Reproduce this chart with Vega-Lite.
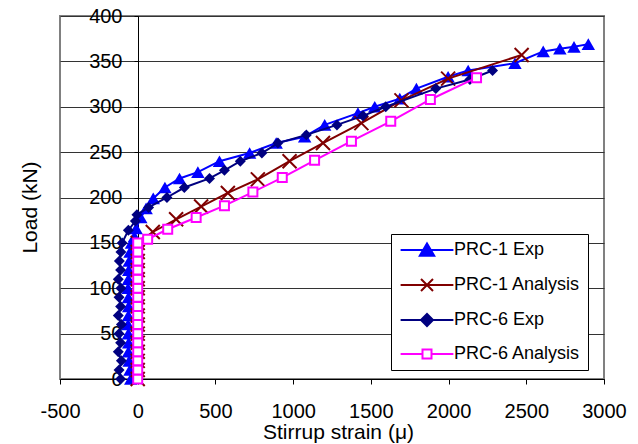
{
  "$schema": "https://vega.github.io/schema/vega-lite/v6.json",
  "width": 544,
  "height": 363,
  "autosize": {"type": "none"},
  "padding": {"left": 60, "top": 16, "right": 34, "bottom": 65},
  "background": "white",
  "config": {
    "font": "Liberation Sans",
    "view": {"stroke": "#808080", "strokeWidth": 2},
    "axis": {
      "labelFont": "Liberation Sans", "titleFont": "Liberation Sans",
      "labelFontSize": 20, "titleFontSize": 21, "titleFontWeight": "normal",
      "labelColor": "black", "titleColor": "black",
      "domainColor": "black", "tickColor": "black",
      "gridColor": "#333333", "gridOpacity": 1, "gridWidth": 1
    }
  },
  "data": {"values": [
    {"series": "PRC-1 Exp", "strain": -45, "load": 0},
    {"series": "PRC-1 Exp", "strain": -50, "load": 10},
    {"series": "PRC-1 Exp", "strain": -55, "load": 20},
    {"series": "PRC-1 Exp", "strain": -60, "load": 30},
    {"series": "PRC-1 Exp", "strain": -58, "load": 40},
    {"series": "PRC-1 Exp", "strain": -60, "load": 50},
    {"series": "PRC-1 Exp", "strain": -62, "load": 60},
    {"series": "PRC-1 Exp", "strain": -60, "load": 70},
    {"series": "PRC-1 Exp", "strain": -58, "load": 80},
    {"series": "PRC-1 Exp", "strain": -60, "load": 90},
    {"series": "PRC-1 Exp", "strain": -62, "load": 100},
    {"series": "PRC-1 Exp", "strain": -60, "load": 110},
    {"series": "PRC-1 Exp", "strain": -58, "load": 120},
    {"series": "PRC-1 Exp", "strain": -55, "load": 130},
    {"series": "PRC-1 Exp", "strain": -50, "load": 140},
    {"series": "PRC-1 Exp", "strain": -40, "load": 150},
    {"series": "PRC-1 Exp", "strain": -21, "load": 157},
    {"series": "PRC-1 Exp", "strain": -10, "load": 166},
    {"series": "PRC-1 Exp", "strain": 20, "load": 178},
    {"series": "PRC-1 Exp", "strain": 54, "load": 188},
    {"series": "PRC-1 Exp", "strain": 100, "load": 199},
    {"series": "PRC-1 Exp", "strain": 175, "load": 211},
    {"series": "PRC-1 Exp", "strain": 269, "load": 221},
    {"series": "PRC-1 Exp", "strain": 387, "load": 228},
    {"series": "PRC-1 Exp", "strain": 526, "load": 240},
    {"series": "PRC-1 Exp", "strain": 720, "load": 249},
    {"series": "PRC-1 Exp", "strain": 891, "load": 260},
    {"series": "PRC-1 Exp", "strain": 1074, "load": 267},
    {"series": "PRC-1 Exp", "strain": 1203, "load": 280},
    {"series": "PRC-1 Exp", "strain": 1417, "load": 293},
    {"series": "PRC-1 Exp", "strain": 1525, "load": 300},
    {"series": "PRC-1 Exp", "strain": 1686, "load": 309},
    {"series": "PRC-1 Exp", "strain": 1793, "load": 320},
    {"series": "PRC-1 Exp", "strain": 1997, "load": 333},
    {"series": "PRC-1 Exp", "strain": 2126, "load": 340},
    {"series": "PRC-1 Exp", "strain": 2427, "load": 348},
    {"series": "PRC-1 Exp", "strain": 2609, "load": 361},
    {"series": "PRC-1 Exp", "strain": 2716, "load": 364},
    {"series": "PRC-1 Exp", "strain": 2807, "load": 366},
    {"series": "PRC-1 Exp", "strain": 2899, "load": 369},

    {"series": "PRC-1 Analysis", "strain": 0, "load": 0},
    {"series": "PRC-1 Analysis", "strain": 0, "load": 10},
    {"series": "PRC-1 Analysis", "strain": 0, "load": 20},
    {"series": "PRC-1 Analysis", "strain": 0, "load": 30},
    {"series": "PRC-1 Analysis", "strain": 0, "load": 40},
    {"series": "PRC-1 Analysis", "strain": 0, "load": 50},
    {"series": "PRC-1 Analysis", "strain": 0, "load": 60},
    {"series": "PRC-1 Analysis", "strain": 0, "load": 70},
    {"series": "PRC-1 Analysis", "strain": 0, "load": 80},
    {"series": "PRC-1 Analysis", "strain": 0, "load": 90},
    {"series": "PRC-1 Analysis", "strain": 0, "load": 100},
    {"series": "PRC-1 Analysis", "strain": 0, "load": 110},
    {"series": "PRC-1 Analysis", "strain": 0, "load": 120},
    {"series": "PRC-1 Analysis", "strain": 0, "load": 130},
    {"series": "PRC-1 Analysis", "strain": 0, "load": 140},
    {"series": "PRC-1 Analysis", "strain": 0, "load": 150},
    {"series": "PRC-1 Analysis", "strain": 97, "load": 162},
    {"series": "PRC-1 Analysis", "strain": 247, "load": 176},
    {"series": "PRC-1 Analysis", "strain": 408, "load": 190},
    {"series": "PRC-1 Analysis", "strain": 580, "load": 205},
    {"series": "PRC-1 Analysis", "strain": 773, "load": 220},
    {"series": "PRC-1 Analysis", "strain": 977, "load": 240},
    {"series": "PRC-1 Analysis", "strain": 1192, "load": 260},
    {"series": "PRC-1 Analysis", "strain": 1439, "load": 282},
    {"series": "PRC-1 Analysis", "strain": 1697, "load": 307},
    {"series": "PRC-1 Analysis", "strain": 1997, "load": 331},
    {"series": "PRC-1 Analysis", "strain": 2470, "load": 357},

    {"series": "PRC-6 Exp", "strain": -110, "load": 0},
    {"series": "PRC-6 Exp", "strain": -120, "load": 10},
    {"series": "PRC-6 Exp", "strain": -105, "load": 20},
    {"series": "PRC-6 Exp", "strain": -125, "load": 30},
    {"series": "PRC-6 Exp", "strain": -110, "load": 40},
    {"series": "PRC-6 Exp", "strain": -120, "load": 50},
    {"series": "PRC-6 Exp", "strain": -105, "load": 60},
    {"series": "PRC-6 Exp", "strain": -125, "load": 70},
    {"series": "PRC-6 Exp", "strain": -110, "load": 80},
    {"series": "PRC-6 Exp", "strain": -120, "load": 90},
    {"series": "PRC-6 Exp", "strain": -108, "load": 100},
    {"series": "PRC-6 Exp", "strain": -125, "load": 110},
    {"series": "PRC-6 Exp", "strain": -110, "load": 120},
    {"series": "PRC-6 Exp", "strain": -118, "load": 130},
    {"series": "PRC-6 Exp", "strain": -108, "load": 140},
    {"series": "PRC-6 Exp", "strain": -100, "load": 150},
    {"series": "PRC-6 Exp", "strain": -60, "load": 164},
    {"series": "PRC-6 Exp", "strain": -15, "load": 174},
    {"series": "PRC-6 Exp", "strain": -5, "load": 181},
    {"series": "PRC-6 Exp", "strain": 70, "load": 189},
    {"series": "PRC-6 Exp", "strain": 188, "load": 200},
    {"series": "PRC-6 Exp", "strain": 300, "load": 211},
    {"series": "PRC-6 Exp", "strain": 462, "load": 221},
    {"series": "PRC-6 Exp", "strain": 558, "load": 230},
    {"series": "PRC-6 Exp", "strain": 660, "load": 240},
    {"series": "PRC-6 Exp", "strain": 799, "load": 249},
    {"series": "PRC-6 Exp", "strain": 902, "load": 260},
    {"series": "PRC-6 Exp", "strain": 1085, "load": 269},
    {"series": "PRC-6 Exp", "strain": 1282, "load": 280},
    {"series": "PRC-6 Exp", "strain": 1449, "load": 290},
    {"series": "PRC-6 Exp", "strain": 1596, "load": 300},
    {"series": "PRC-6 Exp", "strain": 1918, "load": 320},
    {"series": "PRC-6 Exp", "strain": 2137, "load": 330},
    {"series": "PRC-6 Exp", "strain": 2283, "load": 340},

    {"series": "PRC-6 Analysis", "strain": 0, "load": 0},
    {"series": "PRC-6 Analysis", "strain": 0, "load": 10},
    {"series": "PRC-6 Analysis", "strain": 0, "load": 20},
    {"series": "PRC-6 Analysis", "strain": 0, "load": 30},
    {"series": "PRC-6 Analysis", "strain": 0, "load": 40},
    {"series": "PRC-6 Analysis", "strain": 0, "load": 50},
    {"series": "PRC-6 Analysis", "strain": 0, "load": 60},
    {"series": "PRC-6 Analysis", "strain": 0, "load": 70},
    {"series": "PRC-6 Analysis", "strain": 0, "load": 80},
    {"series": "PRC-6 Analysis", "strain": 0, "load": 90},
    {"series": "PRC-6 Analysis", "strain": 0, "load": 100},
    {"series": "PRC-6 Analysis", "strain": 0, "load": 110},
    {"series": "PRC-6 Analysis", "strain": 0, "load": 120},
    {"series": "PRC-6 Analysis", "strain": 0, "load": 130},
    {"series": "PRC-6 Analysis", "strain": 0, "load": 140},
    {"series": "PRC-6 Analysis", "strain": 0, "load": 150},
    {"series": "PRC-6 Analysis", "strain": 64, "load": 154},
    {"series": "PRC-6 Analysis", "strain": 193, "load": 165},
    {"series": "PRC-6 Analysis", "strain": 376, "load": 178},
    {"series": "PRC-6 Analysis", "strain": 558, "load": 191},
    {"series": "PRC-6 Analysis", "strain": 741, "load": 206},
    {"series": "PRC-6 Analysis", "strain": 930, "load": 222},
    {"series": "PRC-6 Analysis", "strain": 1138, "load": 241},
    {"series": "PRC-6 Analysis", "strain": 1375, "load": 262},
    {"series": "PRC-6 Analysis", "strain": 1628, "load": 284},
    {"series": "PRC-6 Analysis", "strain": 1883, "load": 308},
    {"series": "PRC-6 Analysis", "strain": 2180, "load": 332}
  ]},
  "encoding": {
    "x": {
      "field": "strain", "type": "quantitative",
      "scale": {"domain": [-500, 3000], "nice": false, "zero": false},
      "axis": {
        "values": [-500, 0, 500, 1000, 1500, 2000, 2500, 3000],
        "title": "Stirrup strain (μ)",
        "grid": false, "tickSize": 5, "labelPadding": 17,
        "labelExpr": "'' + datum.value",
        "labelOverlap": false, "labelFlush": false,
        "titleX": 278, "titleY": 59, "titleBaseline": "alphabetic", "titleFontSize": 21
      }
    },
    "y": {
      "field": "load", "type": "quantitative",
      "scale": {"domain": [0, 400], "nice": false},
      "axis": {
        "values": [0, 50, 100, 150, 200, 250, 300, 350, 400],
        "title": "Load (kN)",
        "offset": -78, "grid": true, "tickSize": 4, "labelPadding": 12,
        "labelOverlap": false, "labelFlush": false, "labelBaseline": "middle",
        "titleX": -102, "titleY": 191, "titleBaseline": "alphabetic", "titleFontSize": 21
      }
    }
  },
  "layer": [
    {
      "transform": [{"filter": "datum.series === 'PRC-1 Exp'"}],
      "mark": {"type": "line", "strokeWidth": 2},
      "encoding": {
        "order": {"field": "load", "type": "quantitative"},
        "color": {
          "field": "series", "type": "nominal",
          "scale": {"domain": ["PRC-1 Exp", "PRC-1 Analysis", "PRC-6 Exp", "PRC-6 Analysis"], "range": ["#0000FF", "#800000", "#000080", "#FF00FF"]},
          "legend": {
            "title": null, "orient": "none", "legendX": 331, "legendY": 218,
            "fillColor": "white", "strokeColor": "black", "padding": 7,
            "labelFont": "Liberation Sans", "labelFontSize": 18, "labelColor": "black",
            "symbolSize": 144, "symbolOffset": 20, "labelOffset": 18, "rowPadding": 15, "labelLimit": 400,
            "encode": {
              "symbols": {
                "update": {
                  "shape": {"signal": "datum.value === 'PRC-1 Exp' ? 'M-4.4,0H4.4M0,-1.1L1.2,0.95L-1.2,0.95Z' : datum.value === 'PRC-1 Analysis' ? 'M-4.4,0H4.4M-1,-1L1,1M-1,1L1,-1' : datum.value === 'PRC-6 Exp' ? 'M-4.4,0H4.4M-1,0L0,-1L1,0L0,1Z' : 'M-4.4,0H-0.75M0.75,0H4.4M-0.75,-0.75H0.75V0.75H-0.75Z'"},
                  "fill": {"signal": "datum.value === 'PRC-1 Exp' ? '#0000FF' : datum.value === 'PRC-6 Exp' ? '#000080' : datum.value === 'PRC-6 Analysis' ? '#FFFFFF' : 'transparent'"},
                  "stroke": {"signal": "datum.value === 'PRC-1 Exp' ? '#0000FF' : datum.value === 'PRC-1 Analysis' ? '#800000' : datum.value === 'PRC-6 Exp' ? '#000080' : '#FF00FF'"},
                  "strokeWidth": {"value": 2},
                  "opacity": {"value": 1}
                }
              }
            }
          }
        }
      }
    },
    {
      "transform": [{"filter": "datum.series === 'PRC-1 Exp'"}],
      "mark": {"type": "point", "shape": "triangle-up", "size": 180, "filled": true, "color": "#0000FF", "opacity": 1}
    },
    {
      "transform": [{"filter": "datum.series === 'PRC-1 Analysis'"}],
      "mark": {"type": "line", "strokeWidth": 2},
      "encoding": {
        "order": {"field": "load", "type": "quantitative"},
        "color": {"field": "series", "type": "nominal"}
      }
    },
    {
      "transform": [{"filter": "datum.series === 'PRC-1 Analysis'"}],
      "mark": {"type": "point", "shape": "M-1,-1L1,1M-1,1L1,-1", "size": 196, "filled": false, "stroke": "#800000", "strokeWidth": 2, "opacity": 1}
    },
    {
      "transform": [{"filter": "datum.series === 'PRC-6 Exp'"}],
      "mark": {"type": "line", "strokeWidth": 2},
      "encoding": {
        "order": {"field": "load", "type": "quantitative"},
        "color": {"field": "series", "type": "nominal"}
      }
    },
    {
      "transform": [{"filter": "datum.series === 'PRC-6 Exp'"}],
      "mark": {"type": "point", "shape": "diamond", "size": 120, "filled": true, "color": "#000080", "opacity": 1}
    },
    {
      "transform": [{"filter": "datum.series === 'PRC-6 Analysis'"}],
      "mark": {"type": "line", "strokeWidth": 2},
      "encoding": {
        "order": {"field": "load", "type": "quantitative"},
        "color": {"field": "series", "type": "nominal"}
      }
    },
    {
      "transform": [{"filter": "datum.series === 'PRC-6 Analysis'"}],
      "mark": {"type": "point", "shape": "square", "size": 81, "filled": false, "stroke": "#FF00FF", "fill": "white", "strokeWidth": 2, "opacity": 1}
    }
  ]
}
